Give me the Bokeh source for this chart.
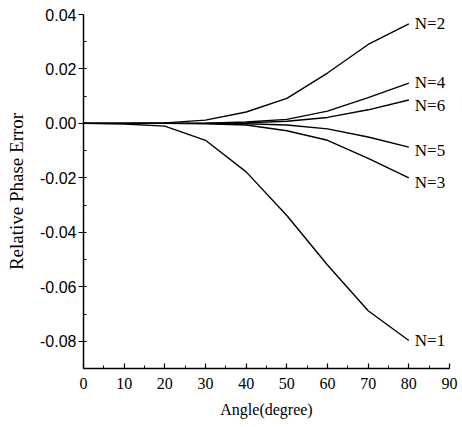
from bokeh.plotting import figure
from bokeh.models import Range1d, FixedTicker, ColumnDataSource, NumeralTickFormatter
from bokeh.core.properties import value
from bokeh.embed import file_html
from bokeh.resources import INLINE

angles = [0, 10, 20, 30, 40, 50, 60, 70, 80]
n1 = [0.0, -0.0002, -0.0010, -0.0062, -0.0178, -0.0338, -0.0520, -0.0688, -0.0797]
n2 = [0.0, 0.0, 0.0002, 0.0012, 0.0042, 0.0092, 0.0185, 0.0290, 0.0366]
n3 = [0.0, 0.0, 0.0, -0.0001, -0.0006, -0.0027, -0.0062, -0.0128, -0.0200]
n4 = [0.0, 0.0, 0.0, 0.0001, 0.0005, 0.0015, 0.0045, 0.0095, 0.0148]
n5 = [0.0, 0.0, 0.0, 0.0, -0.0001, -0.0006, -0.0020, -0.0050, -0.0087]
n6 = [0.0, 0.0, 0.0, 0.0, 0.0002, 0.0008, 0.0022, 0.0050, 0.0086]
series_names = ["N=1", "N=2", "N=3", "N=4", "N=5", "N=6"]
series = [n1, n2, n3, n4, n5, n6]
x_ticks = [0, 10, 20, 30, 40, 50, 60, 70, 80, 90]
y_ticks = [-0.08, -0.06, -0.04, -0.02, 0.0, 0.02, 0.04]

# label pixel offsets (styling; positive = down)
label_dy = [0, 0, 5, -1, 3, 5]

p = figure(width=458, height=420, output_backend="svg", toolbar_location=None,
           x_range=Range1d(0, 90), y_range=Range1d(-0.09, 0.04),
           min_border_left=83, min_border_top=14, min_border_right=9, min_border_bottom=51)
p.outline_line_color = None
p.xgrid.visible = False
p.ygrid.visible = False
p.background_fill_color = "white"
p.border_fill_color = "white"

for ys in series:
    p.line(angles, ys, line_color="black", line_width=1.4)

src = ColumnDataSource(dict(x=[angles[-1]] * len(series), y=[s[-1] for s in series],
                            t=series_names, dy=label_dy))
p.text(x="x", y="y", text="t", source=src, x_offset=6, y_offset="dy",
       text_align="left", text_baseline="middle", text_color="black",
       text_font=value("Liberation Serif"), text_font_size="17px")

xa = p.xaxis[0]
xa.ticker = FixedTicker(ticks=x_ticks, minor_ticks=list(range(0, 91, 5)))
xa.axis_label = "Angle(degree)"
xa.major_tick_in = 5
xa.major_tick_out = 0
xa.minor_tick_in = 3
xa.minor_tick_out = 0
xa.major_label_standoff = 9
xa.axis_label_standoff = 9
xa.major_label_text_font = "Liberation Serif"
xa.major_label_text_font_size = "16px"
xa.axis_label_text_font = "Liberation Serif"
xa.axis_label_text_font_size = "16px"
xa.axis_label_text_font_style = "normal"

ya = p.yaxis[0]
ya.ticker = FixedTicker(ticks=y_ticks, minor_ticks=[-0.09 + 0.01 * i for i in range(14)])
ya.formatter = NumeralTickFormatter(format="0.00")
ya.axis_label = "Relative Phase Error"
ya.major_tick_in = 0
ya.major_tick_out = 5
ya.minor_tick_in = 3
ya.minor_tick_out = 0
ya.major_label_standoff = 2
ya.axis_label_standoff = 10
ya.major_label_text_font = "Liberation Sans"
ya.major_label_text_font_size = "16px"
ya.axis_label_text_font = "Liberation Serif"
ya.axis_label_text_font_size = "19px"
ya.axis_label_text_font_style = "normal"

for ax in (xa, ya):
    ax.axis_line_color = "black"
    ax.axis_line_width = 1.5
    ax.major_tick_line_color = "black"
    ax.minor_tick_line_color = "black"
    ax.major_tick_line_width = 1.2
    ax.major_label_text_color = "black"
    ax.axis_label_text_color = "black"

open("out.html", "w").write(file_html(p, INLINE))
